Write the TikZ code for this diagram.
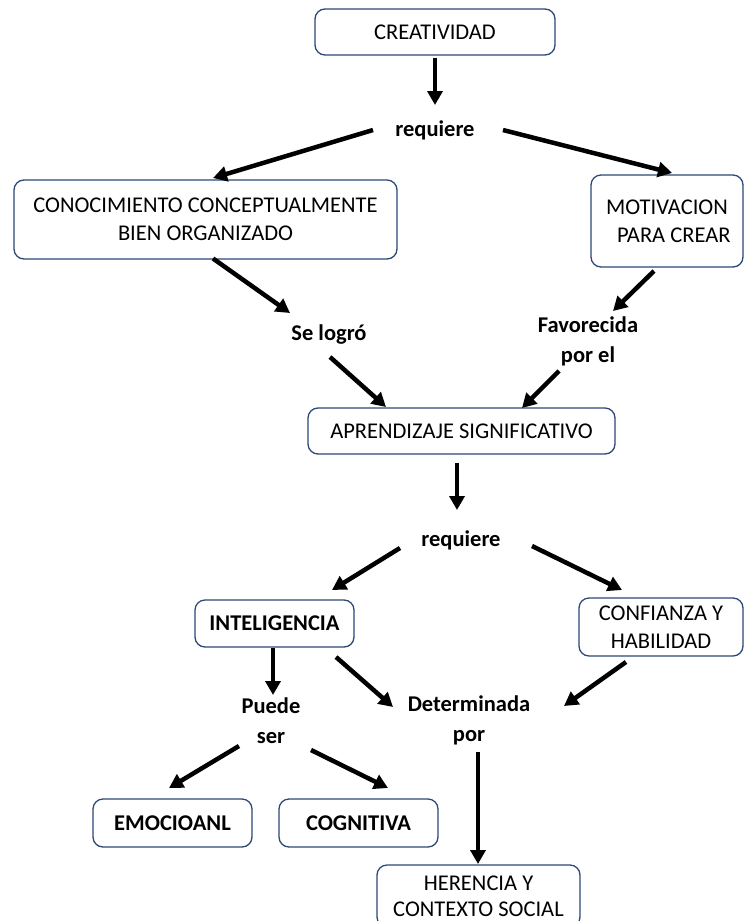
\documentclass[tikz,border=0pt]{standalone}
\usepackage{fontspec}
\setmainfont{Carlito}
\usetikzlibrary{arrows.meta,calc}
\definecolor{boxblue}{RGB}{44,72,117}
\tikzset{
  box/.style={draw=boxblue, line width=1.3pt, rounded corners=10pt, fill=white,
    align=center, inner sep=0pt, font=\fontsize{22.5}{28}\selectfont},
  boldbox/.style={box, font=\fontsize{22.5}{28}\selectfont\bfseries},
  lbl/.style={align=center, inner sep=0pt, font=\fontsize{22.5}{30}\selectfont\bfseries},
  arr/.style={line width=4.5pt, -{Triangle[length=14pt,width=15pt]}, black}
}
\begin{document}
\begin{tikzpicture}[x=1pt,y=-1pt]
\useasboundingbox (0,0) rectangle (744,921);
% boxes
\node[box, minimum width=240pt, minimum height=46pt] (cre) at (435,32) {CREATIVIDAD};
\node[box, minimum width=383pt, minimum height=79pt] (con) at (205.5,219.5) {CONOCIMIENTO CONCEPTUALMENTE\\BIEN ORGANIZADO};
\node[box, minimum width=152pt, minimum height=92pt] (mot) at (667,221) {MOTIVACION\\\hspace*{0.6em}PARA CREAR};
\node[box, minimum width=307pt, minimum height=46pt] (apr) at (461.5,431) {APRENDIZAJE SIGNIFICATIVO};
\node[boldbox, minimum width=159pt, minimum height=47pt] (intel) at (274.5,623.5) {INTELIGENCIA};
\node[box, minimum width=164pt, minimum height=58pt] (conf) at (661,627) {CONFIANZA Y\\HABILIDAD};
\node[boldbox, minimum width=159pt, minimum height=48pt] (emo) at (172.5,823) {EMOCIOANL};
\node[boldbox, minimum width=159pt, minimum height=48pt] (cog) at (358.5,823) {COGNITIVA};
\node[box, minimum width=203pt, minimum height=62pt, font=\fontsize{22.5}{26}\selectfont] (her) at (478.5,896) {HERENCIA Y\\CONTEXTO SOCIAL};
% labels
\node[lbl] (req1) at (435,130) {requiere};
\node[lbl] (selogro) at (329,335) {Se logró};
\node[lbl] (fav) at (588,341) {Favorecida\\por el};
\node[lbl] (req2) at (461,540) {requiere};
\node[lbl] (puede) at (271,721) {Puede\\ser};
\node[lbl] (det) at (469,720) {Determinada\\por};
% arrows
\draw[arr] ($(cre.south)+(0,2)$) -- ($(req1)+(0,-25)$);
\draw[arr] ($(req1)+(-62,0)$) -- ($(con)+(7.5,-41.5)$);
\draw[arr] ($(req1)+(68,0)$) -- ($(mot)+(5,-48)$);
\draw[arr] ($(con)+(7.5,39)$) -- ($(selogro)+(-39,-22)$);
\draw[arr] ($(mot)+(-13,50)$) -- ($(fav)+(25,-30)$);
\draw[arr] ($(selogro)+(1,22)$) -- ($(apr)+(-75.5,-24)$);
\draw[arr] ($(fav)+(-29,30)$) -- ($(apr)+(60.5,-23)$);
\draw[arr] ($(apr)+(-4.5,32)$) -- ($(req2)+(-4,-30)$);
\draw[arr] ($(req2)+(-61,8)$) -- ($(intel)+(57.5,-33.5)$);
\draw[arr] ($(req2)+(71,6)$) -- ($(conf)+(-39,-37)$);
\draw[arr] ($(intel)+(-1.5,24.5)$) -- ($(puede)+(2,-26)$);
\draw[arr] ($(intel)+(61.5,33.5)$) -- ($(det)+(-76,-13)$);
\draw[arr] ($(conf)+(-35,35)$) -- ($(det)+(95,-14)$);
\draw[arr] ($(puede)+(-32,25)$) -- ($(emo)+(-3.5,-35)$);
\draw[arr] ($(puede)+(40,29)$) -- ($(cog)+(29.5,-35)$);
\draw[arr] ($(det)+(9,32)$) -- ($(her)+(-0.5,-32)$);
\end{tikzpicture}
\end{document}
